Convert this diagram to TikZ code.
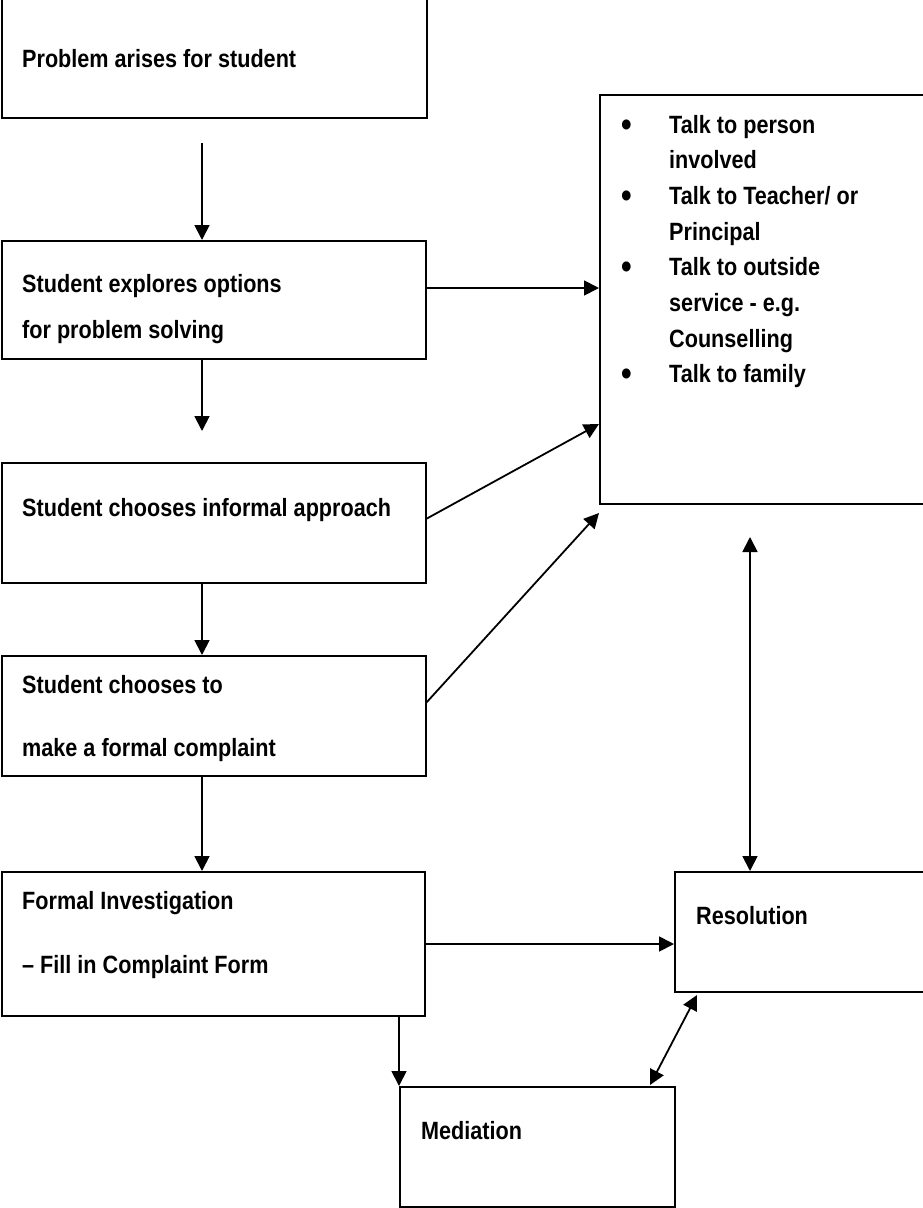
\documentclass[tikz,border=0pt]{standalone}
\usepackage{fontspec}
\setmainfont{Liberation Sans}[FakeStretch=0.865]
\usetikzlibrary{arrows.meta}
\newcommand{\bigbul}{\raisebox{-3pt}{\scalebox{1.4}{\textbullet}}}
\begin{document}
\begin{tikzpicture}[x=1pt,y=-1pt,
  box/.style={draw, line width=2pt, inner sep=0pt, minimum width=#1},
  lbl/.style={anchor=base west, inner sep=0pt, font=\fontsize{25}{35.7}\selectfont\bfseries},
  arr/.style={line width=1.8pt, -{Triangle[length=15pt,width=15pt]}},
  darr/.style={line width=1.8pt, {Triangle[length=15pt,width=15pt]}-{Triangle[length=15pt,width=15pt]}}]
\useasboundingbox (0,0) rectangle (923,1208);
% boxes
\node[box=425pt, minimum height=128pt] (b1) at (214.5,54) {};
\node[box=424pt, minimum height=118pt] (b2) at (214,300) {};
\node[box=424pt, minimum height=120pt] (b3) at (214,523) {};
\node[box=424pt, minimum height=120pt] (b4) at (214,716) {};
\node[box=423pt, minimum height=144pt] (b5) at (213.5,944) {};
\node[box=324pt, minimum height=409pt] (big) at (762,299.5) {};
\node[box=249pt, minimum height=120pt] (res) at (799.5,932) {};
\node[box=275pt, minimum height=120pt] (med) at (537.5,1147) {};
% texts
\node[lbl] (t1) at (22,67) {Problem arises for student};
\node[lbl] (t2a) at (22,292) {Student explores options};
\node[lbl] (t2b) at (22,338) {for problem solving};
\node[lbl] (t3) at (22,516) {Student chooses informal approach};
\node[lbl] (t4a) at (22,693) {Student chooses to};
\node[lbl] (t4b) at (22,756) {make a formal complaint};
\node[lbl] (t5a) at (22,909) {Formal Investigation};
\node[lbl] (t5b) at (22,973) {– Fill in Complaint Form};
\node[lbl] (tres) at (696,924) {Resolution};
\node[lbl] (tmed) at (421,1139) {Mediation};
\node[lbl] (list) at (621,133) {\begin{tabular}[t]{@{}p{48pt}@{}l@{}}
\bigbul & Talk to person\\
 & involved\\
\bigbul & Talk to Teacher/ or\\
 & Principal\\
\bigbul & Talk to outside\\
 & service - e.g.\\
 & Counselling\\
\bigbul & Talk to family
\end{tabular}};
% helper coordinates
\coordinate (a1s) at (202,143);
\coordinate (a2e) at (202,431);
\coordinate (h1) at (0,288);
\coordinate (d1s) at (426,519);
\coordinate (d1e) at (599,424);
\coordinate (d2s) at (426,703);
\coordinate (d2e) at (599,513);
\coordinate (v1s) at (750,537);
\coordinate (h2) at (0,944);
\coordinate (m1) at (697,995);
\coordinate (m2) at (650,1085);
% connectors
\draw[arr] (a1s) -- (a1s |- b2.north);
\draw[arr] (b2.south -| a1s) -- (a2e);
\draw[arr] (b3.south -| a1s) -- (b4.north -| a1s);
\draw[arr] (b4.south -| a1s) -- (b5.north -| a1s);
\draw[arr] (b5.south -| med.north west) -- (med.north west);
\draw[arr] (b2.east |- h1) -- (big.west |- h1);
\draw[arr] (d1s) -- (d1e);
\draw[arr] (d2s) -- (d2e);
\draw[darr] (v1s) -- (res.north -| v1s);
\draw[arr] (b5.east |- h2) -- (res.west |- h2);
\draw[darr] (m1) -- (m2);
\end{tikzpicture}
\end{document}
